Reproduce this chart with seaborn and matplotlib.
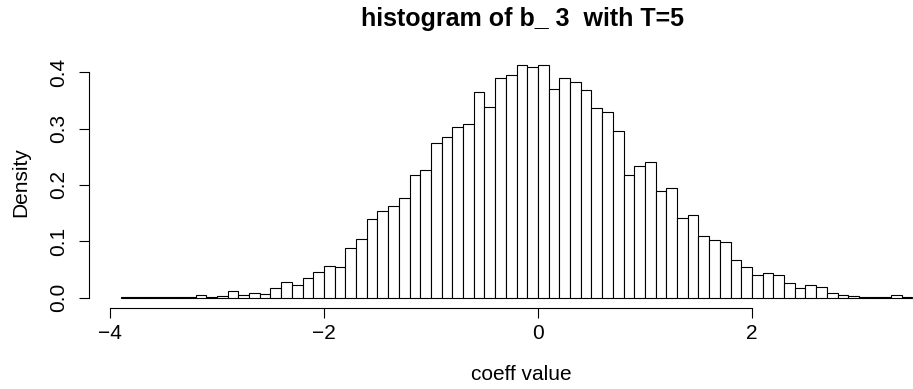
import numpy as np
import pandas as pd
import matplotlib
matplotlib.use("Agg")
import matplotlib.pyplot as plt
import seaborn as sns

# bin left edges (width 0.1) and density heights
bin_left = [round(-3.9 + 0.1 * i, 1) for i in range(74)]
density = [
    0.001, 0.0005, 0.0005, 0.0005, 0.0005, 0.002, 0.001, 0.004, 0.002, 0.003,
    0.012, 0.004, 0.008, 0.007, 0.017, 0.028, 0.022, 0.035, 0.046, 0.057,
    0.055, 0.089, 0.105, 0.140, 0.153, 0.162, 0.176, 0.218, 0.227, 0.275,
    0.286, 0.302, 0.309, 0.365, 0.339, 0.390, 0.396, 0.412, 0.410, 0.412,
    0.370, 0.389, 0.382, 0.369, 0.336, 0.330, 0.295, 0.217, 0.233, 0.240,
    0.189, 0.194, 0.141, 0.147, 0.109, 0.103, 0.098, 0.066, 0.054, 0.040,
    0.044, 0.040, 0.026, 0.017, 0.022, 0.019, 0.008, 0.0045, 0.003, 0.0007,
    0.0007, 0.002, 0.004, 0.001,
]
x_ticks = [-4, -2, 0, 2]
x_tick_labels = ["\u22124", "\u22122", "0", "2"]
y_ticks = [0.0, 0.1, 0.2, 0.3, 0.4]
y_tick_labels = ["0.0", "0.1", "0.2", "0.3", "0.4"]
title = "histogram of b_ 3  with T=5"
xlabel = "coeff value"
ylabel = "Density"

sns.set_style("white")
plt.rcParams["font.family"] = ["Liberation Sans", "DejaVu Sans"]
plt.rcParams["text.color"] = "black"

W, H = 913, 389
fig = plt.figure(figsize=(W / 100, H / 100), dpi=100)
# plot region in pixels
left_px, right_px, top_px, bottom_px = 89.3, 913, 56.2, 308
ax = fig.add_axes([left_px / W, 1 - bottom_px / H,
                   (right_px - left_px) / W, (bottom_px - top_px) / H])

df = pd.DataFrame({"center": [b + 0.05 for b in bin_left], "density": density})
edges = [round(b, 2) for b in bin_left] + [round(bin_left[-1] + 0.1, 2)]
sns.histplot(data=df, x="center", weights="density", bins=edges, stat="count",
             color="white", edgecolor="black", linewidth=0.8, alpha=1,
             ax=ax)

ax.set_xlim(-4.193, 3.505)
ax.set_ylim(-0.0183, 0.4285)
for s in ["top", "right"]:
    ax.spines[s].set_visible(False)
ax.spines["left"].set_bounds(0, 0.4)
ax.spines["bottom"].set_bounds(-4, 2)
for s in ["left", "bottom"]:
    ax.spines[s].set_color("black")
    ax.spines[s].set_linewidth(0.8)
ax.set_xticks(x_ticks)
ax.set_xticklabels(x_tick_labels)
ax.set_yticks(y_ticks)
ax.set_yticklabels(y_tick_labels, rotation=90, va="center")
ax.tick_params(axis="both", direction="out", length=7.5, width=0.8,
               colors="black", labelsize=15, left=True, bottom=True)
ax.tick_params(axis="x", pad=4)
ax.tick_params(axis="y", pad=7.5)
ax.set_xlabel("")
ax.set_ylabel("")
ax.grid(False)

fig.text(522.5 / W, 1 - 26 / H, title, ha="center", va="baseline",
         fontsize=18, fontweight="bold", color="black")
fig.text(521 / W, 1 - 380 / H, xlabel, ha="center", va="baseline",
         fontsize=15, color="black")
fig.text(20.5 / W, 1 - 182 / H, ylabel, ha="center", va="center", fontsize=15,
         rotation=90, color="black")

fig.savefig("out.png", dpi=100)
